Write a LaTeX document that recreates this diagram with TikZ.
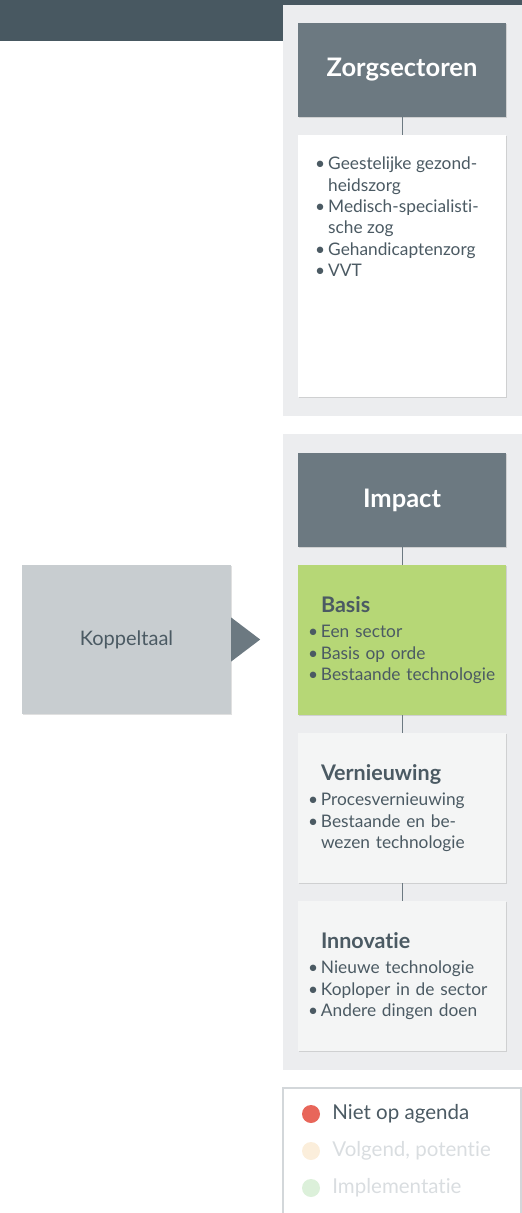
\documentclass[tikz,border=0pt]{standalone}
\usepackage{fontspec}
\setmainfont{Lato}[Ligatures={NoCommon,NoRare,NoDiscretionary}]
\usetikzlibrary{positioning,shadows}

\definecolor{banner}{RGB}{72,88,97}
\definecolor{panel}{RGB}{236,237,239}
\definecolor{header}{RGB}{108,121,129}
\definecolor{ink}{RGB}{75,90,99}
\definecolor{basisgreen}{RGB}{182,215,118}
\definecolor{softbox}{RGB}{244,245,245}
\definecolor{koppelgrey}{RGB}{200,205,208}
\definecolor{legline}{RGB}{211,215,218}
\definecolor{legred}{RGB}{232,102,90}
\definecolor{legbeige}{RGB}{251,238,219}
\definecolor{leggreen}{RGB}{220,240,218}
\definecolor{faded}{RGB}{217,221,224}

\newcommand{\bul}{\makebox[13pt][l]{\textbullet}}
\newcommand{\ind}{\hspace*{13pt}}

\tikzset{
  boxshadow/.style={drop shadow={shadow xshift=0.6pt, shadow yshift=-1.4pt,
      fill=black, opacity=0.12}},
  headbox/.style={fill=header, text=white, minimum width=208pt,
      minimum height=94pt, inner sep=0pt, boxshadow,
      font=\bfseries\fontsize{25.5}{28}\selectfont},
  levelbox/.style={minimum width=208pt, minimum height=150pt,
      text width=188pt, inner xsep=10pt, inner ysep=0pt, align=left,
      text=ink, boxshadow, font=\fontsize{17.3}{21.3}\selectfont},
  link/.style={draw=header, line width=1pt},
}

\begin{document}
\begin{tikzpicture}[x=1pt,y=-1pt]
  \useasboundingbox (0,0) rectangle (522,1213);
  % banner and grey panels
  \fill[banner] (0,0) rectangle (522,41);
  \fill[panel] (283,5) rectangle (522,416);
  \fill[panel] (283,434) rectangle (522,1070);

  % Zorgsectoren column
  \node[headbox] (zhead) at (402,70) {Zorgsectoren};
  \node[fill=white, minimum width=208pt, minimum height=262pt, boxshadow]
    (zlist) at (402,266) {};
  \node[anchor=north west, inner sep=0pt, align=left, text=ink,
        font=\fontsize{17.3}{21.3}\selectfont] (zitems) at (315,157)
    {\bul Geestelijke gezond-\\ \ind heidszorg\\
     \bul Medisch-specialisti-\\ \ind sche zog\\
     \bul Gehandicaptenzorg\\
     \bul VVT};
  \draw[link] (zhead) -- (zlist);

  % Impact column
  \node[headbox] (impact) at (402,500) {Impact};
  \node[levelbox, fill=basisgreen] (basis) at (402,640)
    {{\bfseries\fontsize{21.5}{22}\selectfont\ind Basis}\\[4pt]
     \bul Een sector\\
     \bul Basis op orde\\
     \bul Bestaande technologie};
  \node[levelbox, fill=softbox] (vernieuw) at (402,808)
    {{\bfseries\fontsize{21.5}{22}\selectfont\ind Vernieuwing}\\[4pt]
     \bul Procesvernieuwing\\
     \bul Bestaande en be-\\ \ind wezen technologie};
  \node[levelbox, fill=softbox] (innov) at (402,976)
    {{\bfseries\fontsize{21.5}{22}\selectfont\ind Innovatie}\\[4pt]
     \bul Nieuwe technologie\\
     \bul Koploper in de sector\\
     \bul Andere dingen doen};
  \draw[link] (impact) -- (basis);
  \draw[link] (basis) -- (vernieuw);
  \draw[link] (vernieuw) -- (innov);

  % Koppeltaal with pointer
  \node[fill=koppelgrey, minimum width=209pt, minimum height=149pt,
        text=ink, boxshadow, font=\fontsize{20}{24}\selectfont]
    (koppel) at (126.5,639.5) {Koppeltaal};
  \fill[header] (koppel.east) ++(0,-22) -- ++(29,22) -- ++(-29,22) -- cycle;

  % legend
  \draw[legline, line width=1.2pt] (283,1213) |- (521,1088) -- (521,1213);
  \foreach \i/\c/\t/\tc/\y in {0/legred/{Niet op agenda}/ink/1114,
                               1/legbeige/{Volgend, potentie}/faded/1151,
                               2/leggreen/{Implementatie}/faded/1188} {
    \node[circle, fill=\c, minimum size=18pt, inner sep=0pt] (dot\i) at (311,\y) {};
    \node[right=12pt of dot\i, inner sep=0pt, text=\tc,
          font=\fontsize{20.5}{24}\selectfont] (lab\i) {\t};
  }
\end{tikzpicture}
\end{document}
